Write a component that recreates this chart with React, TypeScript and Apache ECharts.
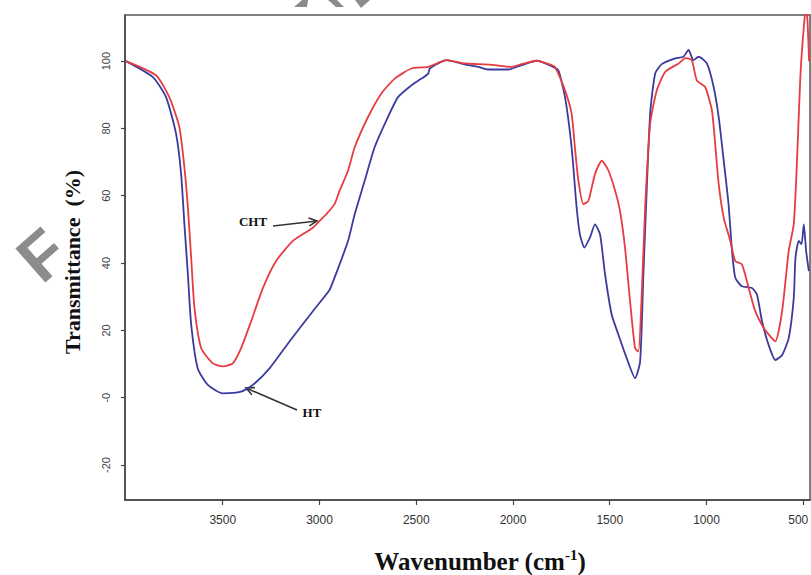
import React, { useEffect, useRef } from "react";
import * as echarts from "echarts";

// ---- Data ----
const chtWavenumbers = [
  4000, 3845, 3776, 3724, 3698, 3680, 3663, 3646, 3611, 3551, 3500, 3448, 3405, 3353, 3292, 3224, 3137, 3034,
  2991, 2965, 2922, 2896, 2852, 2818, 2749, 2680, 2611, 2525, 2438, 2387, 2344, 2249, 2180, 2094, 2008, 1955,
  1878, 1852, 1800, 1783, 1731, 1697, 1680, 1662, 1636, 1610, 1576, 1541, 1507, 1472, 1447, 1421, 1395, 1369,
  1352, 1334, 1317, 1291, 1257, 1213, 1144, 1108, 1076, 1050, 1007, 972, 955, 937, 911, 877, 851, 817, 782, 748,
  704, 670, 644, 609, 575, 549, 532, 515, 497, 486, 478, 470,
];
const chtValues = [
  100, 95.8, 89.3, 80.4, 68.4, 56.5, 41.6, 26.7, 14.7, 10.2, 9.3, 10.2, 14.7, 22.7, 32.6, 40.6, 46.6, 50.5,
  53.0, 54.5, 57.5, 61.5, 67.5, 74.4, 83.4, 90.4, 94.8, 97.8, 98.3, 99.5, 100.3, 99.3, 99.1, 98.8, 98.3, 99.1,
  100.1, 99.8, 98.8, 98.3, 91.3, 84.4, 74.4, 64.5, 57.5, 58.5, 66.5, 70.4, 67.5, 61.5, 55.5, 44.6, 28.7, 14.7,
  13.7, 31.6, 56.5, 81.4, 91.3, 96.8, 99.3, 100.9, 100.3, 94.3, 92.3, 85.4, 75.4, 63.5, 53.5, 46.6, 40.6, 39.6,
  32.6, 25.7, 20.7, 18.2, 16.7, 25.7, 43.6, 51.5, 70.5, 95.3, 110.2, 116, 112, 100,
];

const htWavenumbers = [
  4000, 3862, 3793, 3741, 3715, 3698, 3680, 3663, 3629, 3577, 3500, 3405, 3344, 3258, 3155, 3034, 2948, 2930,
  2913, 2852, 2818, 2766, 2715, 2654, 2594, 2525, 2473, 2438, 2430, 2387, 2344, 2250, 2180, 2128, 2025, 1955,
  1878, 1852, 1800, 1766, 1731, 1697, 1671, 1654, 1631, 1602, 1576, 1550, 1524, 1490, 1455, 1412, 1369, 1343,
  1326, 1309, 1291, 1265, 1231, 1162, 1119, 1093, 1067, 1041, 998, 963, 937, 911, 886, 868, 851, 817, 765, 739,
  713, 679, 644, 609, 575, 549, 540, 523, 509, 497, 485, 471,
];
const htValues = [
  100, 95.3, 89.3, 78.4, 66.5, 51.5, 36.6, 21.7, 8.7, 3.8, 1.3, 1.8, 3.8, 8.7, 16.7, 25.7, 32.0, 34.5,
  37.0, 46.6, 54.5, 64.5, 74.4, 82.4, 89.3, 92.8, 94.8, 96.3, 97.8, 99.3, 100.3, 99.0, 98.3, 97.5, 97.5, 98.8,
  100.1, 99.8, 98.5, 97.3, 89.3, 74.4, 56.5, 48.5, 44.6, 47.6, 51.5, 48.5, 36.6, 24.7, 18.7, 11.7, 5.8, 10.7,
  36.6, 61.5, 84.4, 96.3, 99.1, 100.8, 101.3, 103.3, 100.3, 101.3, 99.3, 92.3, 83.4, 70.5, 57.5, 43.6, 35.6, 33.1,
  32.6, 30.6, 22.7, 15.7, 11.2, 12.7, 17.7, 29.6, 41.6, 46.6, 45.6, 51.5, 43.6, 37.6,
];

const xTicks = [3500, 3000, 2500, 2000, 1500, 1000, 500];
const yTicks = [-20, 0, 20, 40, 60, 80, 100];

const X_MIN = 465;
const X_MAX = 4005;
const Y_MIN = -30.4;
const Y_MAX = 113.7;

const W = 811;
const H = 575;

const zip = (xs: number[], ys: number[]) => xs.map((x, i) => [x, ys[i]]);

function arrowHead(x1: number, y1: number, x2: number, y2: number, len = 9, ang = 0.45) {
  const a = Math.atan2(y2 - y1, x2 - x1);
  return [
    [x2 - len * Math.cos(a - ang), y2 - len * Math.sin(a - ang)],
    [x2, y2],
    [x2 - len * Math.cos(a + ang), y2 - len * Math.sin(a + ang)],
  ];
}

export default function App() {
  const ref = useRef<HTMLDivElement>(null);

  useEffect(() => {
    if (!ref.current) return;
    document.body.style.margin = "0";
    const chart = echarts.init(ref.current, undefined, { renderer: "svg", width: W, height: H });
    const serif = "'Liberation Serif', 'Times New Roman', serif";
    const sans = "'Liberation Sans', Arial, sans-serif";
    const arrowStyle = { stroke: "#333", lineWidth: 1.6, fill: "none" };

    chart.setOption({
      animation: false,
      backgroundColor: "#ffffff",
      grid: {
        left: 125,
        right: 1,
        top: 15,
        bottom: 75,
        containLabel: false,
        outerBoundsMode: "none",
        show: true,
        borderColor: "#555",
        borderWidth: 1.5,
        backgroundColor: "transparent",
      },
      xAxis: {
        type: "value",
        inverse: true,
        min: X_MIN,
        max: X_MAX,
        splitLine: { show: false },
        axisLine: { show: true, onZero: false, lineStyle: { color: "#444", width: 1.5 } },
        axisTick: { show: true, customValues: xTicks, length: 5, lineStyle: { color: "#444", width: 1.2 } },
        axisLabel: {
          customValues: xTicks,
          color: "#333",
          fontSize: 12,
          fontFamily: "'Liberation Sans Narrow', 'Liberation Sans', Arial, sans-serif",
          margin: 14,
          formatter: (v: number) => (v === 500 ? "{edge|500}" : String(v)),
          rich: {
            edge: {
              fontSize: 12,
              color: "#333",
              fontFamily: "'Liberation Sans Narrow', 'Liberation Sans', Arial, sans-serif",
              padding: [0, 10, 0, 0],
            },
          },
        },
      },
      yAxis: {
        type: "value",
        min: Y_MIN,
        max: Y_MAX,
        splitLine: { show: false },
        axisLine: { show: true, onZero: false, lineStyle: { color: "#444", width: 1.5 } },
        axisTick: { show: true, customValues: yTicks, length: 4, lineStyle: { color: "#444", width: 1.2 } },
        axisLabel: {
          customValues: yTicks,
          rotate: 90,
          color: "#444",
          fontSize: 11,
          fontFamily: sans,
          margin: 14,
          formatter: (v: number) => (v === 0 ? "-0" : String(v)),
        },
      },
      series: [
        {
          name: "CHT",
          type: "line",
          data: zip(chtWavenumbers, chtValues),
          showSymbol: false,
          smooth: 0.2,
          clip: true,
          lineStyle: { color: "#e63c42", width: 1.8 },
          z: 3,
        },
        {
          name: "HT",
          type: "line",
          data: zip(htWavenumbers, htValues),
          showSymbol: false,
          smooth: 0.2,
          clip: true,
          lineStyle: { color: "#3b3b9e", width: 1.8 },
          z: 2,
        },
      ],
      graphic: [
        // watermark fragments
        {
          type: "text",
          x: 42,
          y: 255,
          rotation: 0.72,
          z: 0,
          style: {
            text: "F",
            font: "bold 66px 'Liberation Sans', Arial, sans-serif",
            fill: "#8c8c8c",
            align: "center",
            verticalAlign: "middle",
          },
        },
        { type: "polygon", shape: { points: [[294, 7], [302, 0], [308, 0], [307, 7]] }, style: { fill: "#8c8c8c" } },
        { type: "polygon", shape: { points: [[328, 0], [337, 0], [344, 7], [336, 7]] }, style: { fill: "#8c8c8c" } },
        { type: "polygon", shape: { points: [[355, 0], [370, 0], [361, 8]] }, style: { fill: "#8c8c8c" } },
        // axis titles
        {
          type: "text",
          x: 72,
          y: 262,
          rotation: Math.PI / 2,
          style: {
            text: "Transmittance  (%)",
            font: `bold 22px ${serif}`,
            fill: "#111",
            align: "center",
            verticalAlign: "middle",
          },
        },
        {
          type: "text",
          x: 480,
          y: 561,
          style: {
            text: "{a|Wavenumber (cm}{s|-1}{a|)}",
            align: "center",
            verticalAlign: "middle",
            rich: {
              a: { font: `bold 25px ${serif}`, fill: "#111", lineHeight: 28 },
              s: { font: `bold 15px ${serif}`, fill: "#111", verticalAlign: "top", lineHeight: 28, padding: [0, 0, 9, 0] },
            },
          },
        },
        // annotations
        {
          type: "text",
          x: 253,
          y: 221,
          style: { text: "CHT", font: `bold 13px ${serif}`, fill: "#111", align: "center", verticalAlign: "middle" },
        },
        { type: "line", shape: { x1: 273, y1: 226, x2: 317, y2: 221 }, style: arrowStyle },
        { type: "polyline", shape: { points: arrowHead(273, 226, 317, 221) }, style: arrowStyle },
        {
          type: "text",
          x: 312,
          y: 412,
          style: { text: "HT", font: `bold 13px ${serif}`, fill: "#111", align: "center", verticalAlign: "middle" },
        },
        { type: "line", shape: { x1: 297, y1: 410, x2: 246, y2: 388 }, style: arrowStyle },
        { type: "polyline", shape: { points: arrowHead(297, 410, 246, 388) }, style: arrowStyle },
      ],
    });

    return () => chart.dispose();
  }, []);

  return <div ref={ref} style={{ width: W, height: H, background: "#fff" }} />;
}
